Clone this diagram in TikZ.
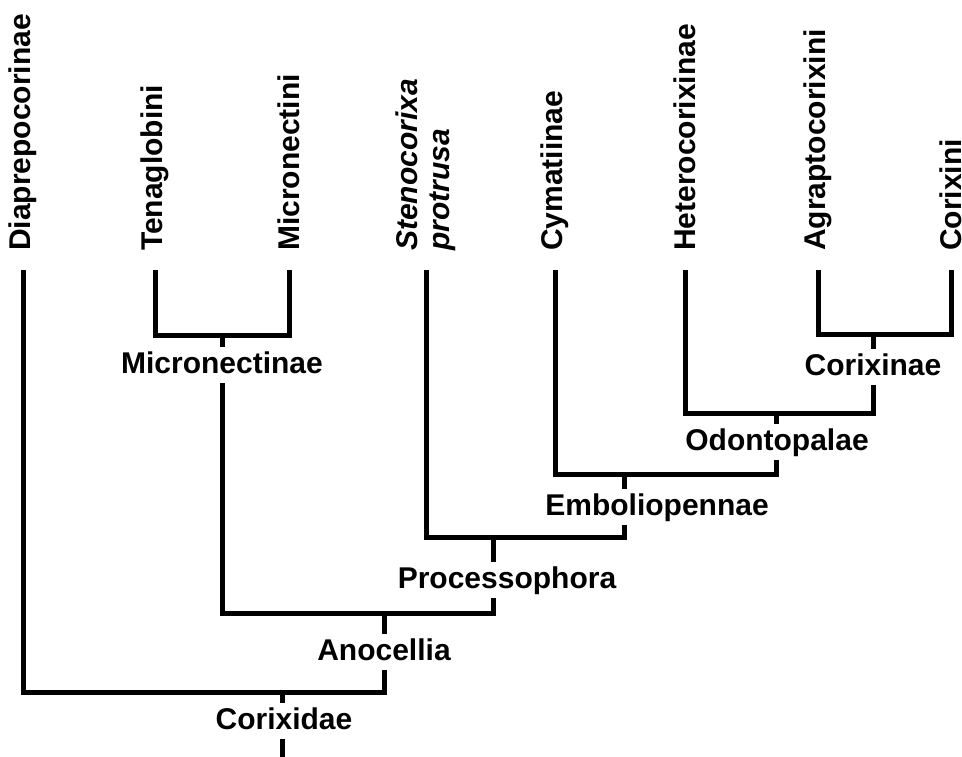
\documentclass[tikz,border=0pt]{standalone}
\usepackage{fontspec}
\setmainfont{Liberation Sans}
\newcommand\labfont{\fontsize{30}{32}\selectfont\bfseries}
\begin{document}
\begin{tikzpicture}[x=1pt,y=-1pt,
  br/.style={line width=5pt, line join=miter},
  lab/.style={font=\labfont, inner xsep=0pt, text height=22pt, text depth=6pt, inner ysep=4pt},
  leaf/.style={font=\labfont, rotate=90, anchor=west, inner sep=0pt}]
\useasboundingbox (0,0) rectangle (962,757);
% leaves
\node[leaf] (Dia) at (23,251) {Diaprepocorinae};
\node[leaf] (Ten) at (155,251) {Tenaglobini};
\node[leaf] (Mcn) at (289,251) {Micronectini};
\node[leaf, align=left, font=\labfont\itshape] (Ste) at (426,251) {Stenocorixa\\protrusa};
\node[leaf] (Cym) at (555,251) {Cymatiinae};
\node[leaf] (Het) at (685,251) {Heterocorixinae};
\node[leaf] (Agr) at (818,251) {Agraptocorixini};
\node[leaf] (Cor) at (951,251) {Corixini};
% clade labels
\node[lab] (nMn) at (222,365) {Micronectinae};
\node[lab] (nCx) at (873,367) {Corixinae};
\node[lab] (nOd) at (777,442) {Odontopalae};
\node[lab] (nEm) at (657,507) {Emboliopennae};
\node[lab] (nPr) at (507,580) {Processophora};
\node[lab] (nAn) at (384,652) {Anocellia};
\node[lab] (nCo) at (284,721) {Corixidae};
% junctions
\coordinate (jMn) at (222,335);
\coordinate (jCx) at (873,334);
\coordinate (jOd) at (776,413);
\coordinate (jEm) at (624,474);
\coordinate (jPr) at (493,537);
\coordinate (jAn) at (384,613);
\coordinate (jCo) at (282,692);
\coordinate (root) at (282,757);
% branches
\draw[br] ([yshift=-19pt]Ten.west) |- (jMn) -| ([yshift=-19pt]Mcn.west);
\draw[br] (jMn) -- (nMn.north -| jMn);
\draw[br] ([yshift=-19pt]Agr.west) |- (jCx) -| ([yshift=-19pt]Cor.west);
\draw[br] (jCx) -- (nCx.north -| jCx);
\draw[br] ([yshift=-19pt]Het.west) |- (jOd) -| (nCx.south -| jCx);
\draw[br] (jOd) -- (nOd.north -| jOd);
\draw[br] ([yshift=-19pt]Cym.west) |- (jEm) -| (nOd.south -| jOd);
\draw[br] (jEm) -- (nEm.north -| jEm);
\draw[br] ([yshift=-19pt]Ste.west) |- (jPr) -| (nEm.south -| jEm);
\draw[br] (jPr) -- (nPr.north -| jPr);
\draw[br] (nMn.south -| jMn) |- (jAn) -| (nPr.south -| jPr);
\draw[br] (jAn) -- (nAn.north -| jAn);
\draw[br] ([yshift=-19pt]Dia.west) |- (jCo) -| (nAn.south -| jAn);
\draw[br] (jCo) -- (nCo.north -| jCo);
\draw[br] (nCo.south -| jCo) -- (root);
\end{tikzpicture}
\end{document}
